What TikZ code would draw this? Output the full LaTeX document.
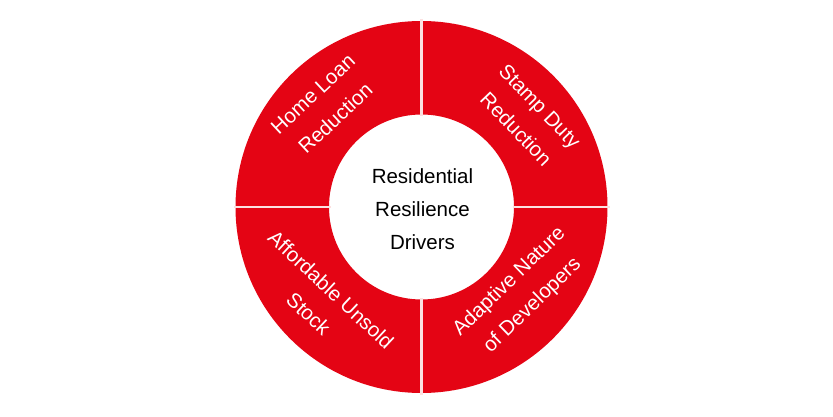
\documentclass[tikz,border=0pt]{standalone}
\usepackage{fontspec}
\setmainfont{Liberation Sans}
\usetikzlibrary{calc}
\definecolor{ringred}{RGB}{228,4,20}
\definecolor{divider}{RGB}{252,225,225}
\begin{document}
\begin{tikzpicture}[x=1pt,y=1pt,
  quadtext/.style={text=white, align=center, font=\fontsize{20.5}{33}\selectfont, inner sep=0pt},
  centertext/.style={text=black, align=center, font=\fontsize{20.5}{33}\selectfont, inner sep=0pt},
  divline/.style={draw=divider, line width=2.2pt}]
\useasboundingbox (0,0) rectangle (833,-417);
\fill[white] (0,0) rectangle (833,-417);
\coordinate (c) at (421.5,-207);
\fill[ringred, even odd rule] (c) circle (186) (c) circle (92.5);
\foreach \a in {0,90,180,270}
  \draw[divline] ($(c)+(\a:91)$) -- ($(c)+(\a:188)$);
\node[centertext] (center) at ($(c)+(1,-2)$) {Residential\\Resilience\\Drivers};
\node[quadtext, rotate=43] (hl) at ($(c)+(134:140)$) {Home Loan\\Reduction};
\node[quadtext, rotate=-46] (sd) at ($(c)+(40:139)$) {Stamp Duty\\Reduction};
\node[quadtext, rotate=-43] (au) at ($(c)+(223:139)$) {Affordable Unsold\\Stock};
\node[quadtext, rotate=44] (an) at ($(c)+(-41:132)$) {Adaptive Nature\\of Developers};
\end{tikzpicture}
\end{document}
